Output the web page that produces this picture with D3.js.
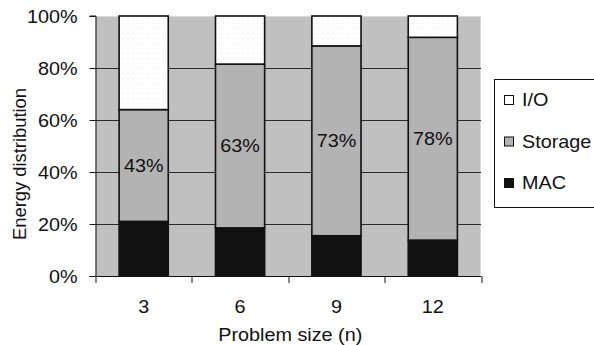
<!DOCTYPE html>
<html>
<head>
<meta charset="utf-8">
<script src="https://cdn.jsdelivr.net/npm/d3@7"></script>
<style>
  html, body { margin: 0; padding: 0; background: #fff; }
  svg { display: block; font-family: "Liberation Sans", Arial, Helvetica, sans-serif; }
</style>
</head>
<body>
<svg id="chart" width="594" height="345"></svg>
<script>
// Problem sizes on the x axis
const problemSizes = ["3", "6", "9", "12"];
// Share of energy per component, in percent (stacked bottom to top: MAC, Storage, I/O)
const macShare = [21, 18.5, 15.5, 13.8];
const storageShare = [43, 63, 73, 78];
const ioShare = problemSizes.map((_, i) => 100 - macShare[i] - storageShare[i]);
const seriesNames = ["MAC", "Storage", "I/O"];
const yTickValues = [0, 20, 40, 60, 80, 100];

const svg = d3.select("#chart");
const margin = { left: 95.5, right: 113, top: 16, bottom: 69 };
const W = 594, H = 345;
const plotW = W - margin.left - margin.right;
const plotH = H - margin.top - margin.bottom;
const FS = 18;       // label font size
const SX = 1.1;      // horizontal widening of the label face

const fills = { "MAC": "#111111", "Storage": "#b3b3b3", "I/O": "#ffffff" };

// Places a text element at (x, y) with the widened face
function place(sel, fx, fy) {
  sel.attr("x", 0).attr("y", 0)
    .attr("transform", (d, i) => `translate(${fx(d, i)},${fy(d, i)}) scale(${SX},1)`);
  return sel;
}

// Faint dotted texture used for the I/O segments
const defs = svg.append("defs");
const pat = defs.append("pattern").attr("id", "dots")
  .attr("width", 5).attr("height", 5).attr("patternUnits", "userSpaceOnUse");
pat.append("rect").attr("width", 5).attr("height", 5).attr("fill", "#ffffff");
pat.append("rect").attr("x", 2).attr("y", 2).attr("width", 1).attr("height", 1).attr("fill", "#e6e6e6");

const x = d3.scaleBand().domain(problemSizes).range([0, plotW]).paddingInner(0.49).paddingOuter(0.245);
const xOuter = d3.scaleBand().domain(problemSizes).range([0, plotW]);
const y = d3.scaleLinear().domain([0, 100]).range([plotH, 0]);

const g = svg.append("g").attr("transform", `translate(${margin.left},${margin.top})`);

// Plot area background
g.append("rect").attr("width", plotW).attr("height", plotH).attr("fill", "#c0c0c0");
g.append("path")
  .attr("d", `M0,0.5H${plotW - 0.5}V${plotH}`)
  .attr("fill", "none").attr("stroke", "#d9d9d9").attr("stroke-width", 1);

// Horizontal gridlines
g.append("g").selectAll("line").data(yTickValues.filter(v => v > 0 && v < 100)).join("line")
  .attr("x1", 0).attr("x2", plotW)
  .attr("y1", d => Math.round(y(d)) + 0.5).attr("y2", d => Math.round(y(d)) + 0.5)
  .attr("stroke", "#2a2a2a").attr("stroke-width", 1);

// Stacked bars
const rows = problemSizes.map((n, i) => ({ n, "MAC": macShare[i], "Storage": storageShare[i], "I/O": ioShare[i] }));
const stack = d3.stack().keys(seriesNames)(rows);

g.append("g").selectAll("g").data(stack).join("g")
  .attr("fill", d => d.key === "I/O" ? "url(#dots)" : fills[d.key])
  .selectAll("rect").data(d => d).join("rect")
  .attr("x", d => x(d.data.n))
  .attr("width", x.bandwidth())
  .attr("y", d => y(d[1]))
  .attr("height", d => y(d[0]) - y(d[1]))
  .attr("stroke", "#111").attr("stroke-width", 1.6);

// Value labels in the Storage segments
const storageLayer = stack.find(s => s.key === "Storage");
place(g.append("g").selectAll("text").data(storageLayer).join("text"),
    d => x(d.data.n) + x.bandwidth() / 2,
    d => (y(d[0]) + y(d[1])) / 2)
  .attr("text-anchor", "middle").attr("dominant-baseline", "central")
  .attr("font-size", FS).attr("fill", "#111")
  .text(d => d3.format(".0f")(d[1] - d[0]) + "%");

// Y axis
const yAxis = d3.axisLeft(y).tickValues(yTickValues).tickFormat(d => d + "%").tickSize(6).tickPadding(12);
const ya = g.append("g").call(yAxis);
ya.select(".domain").attr("stroke", "#111").attr("d", `M-6,${plotH + 0.5}H0.5V0H-6`);
ya.selectAll(".tick line").attr("stroke", "#111");
ya.selectAll("text").attr("font-size", FS).attr("fill", "#111").attr("font-family", null)
  .attr("dy", null).attr("dominant-baseline", "central")
  .attr("x", 0).attr("transform", `translate(-18,0) scale(${SX},1)`);

// X axis with ticks between categories
const xa = g.append("g").attr("transform", `translate(0,${plotH})`);
xa.append("line").attr("x1", 0).attr("x2", plotW).attr("y1", 0.5).attr("y2", 0.5).attr("stroke", "#111");
const bounds = problemSizes.map(n => xOuter(n)).concat([plotW]);
xa.selectAll("line.tk").data(bounds).join("line").attr("class", "tk")
  .attr("x1", d => Math.round(d) + 0.5).attr("x2", d => Math.round(d) + 0.5)
  .attr("y1", 0).attr("y2", 7).attr("stroke", "#111");
place(xa.selectAll("text").data(problemSizes).join("text"),
    d => xOuter(d) + xOuter.bandwidth() / 2, () => 31)
  .attr("text-anchor", "middle").attr("dominant-baseline", "central")
  .attr("font-size", FS).attr("fill", "#111")
  .text(d => d);

// Axis titles
place(svg.append("text"), () => margin.left + plotW / 2 + 2, () => 335)
  .attr("text-anchor", "middle").attr("dominant-baseline", "central")
  .attr("font-size", FS).attr("fill", "#111").text("Problem size (n)");
svg.append("text").attr("transform", `translate(20,164) rotate(-90) scale(1.02,1)`)
  .attr("text-anchor", "middle").attr("dominant-baseline", "central")
  .attr("font-size", FS).attr("fill", "#111").text("Energy distribution");

// Legend
const lg = svg.append("g").attr("transform", "translate(494,79)");
lg.append("rect").attr("x", 0.5).attr("y", 0.5).attr("width", 110).attr("height", 128)
  .attr("fill", "#fff").attr("stroke", "#111");
const legendOrder = ["I/O", "Storage", "MAC"];
const li = lg.selectAll("g.item").data(legendOrder).join("g").attr("class", "item")
  .attr("transform", (d, i) => `translate(10,${21 + i * 41.5})`);
li.append("rect").attr("x", 0.5).attr("y", -4.5).attr("width", 9).attr("height", 9)
  .attr("fill", d => fills[d]).attr("stroke", "#111");
place(li.append("text"), () => 18, () => 0)
  .attr("dominant-baseline", "central")
  .attr("font-size", FS).attr("fill", "#111").text(d => d);
</script>
</body>
</html>
